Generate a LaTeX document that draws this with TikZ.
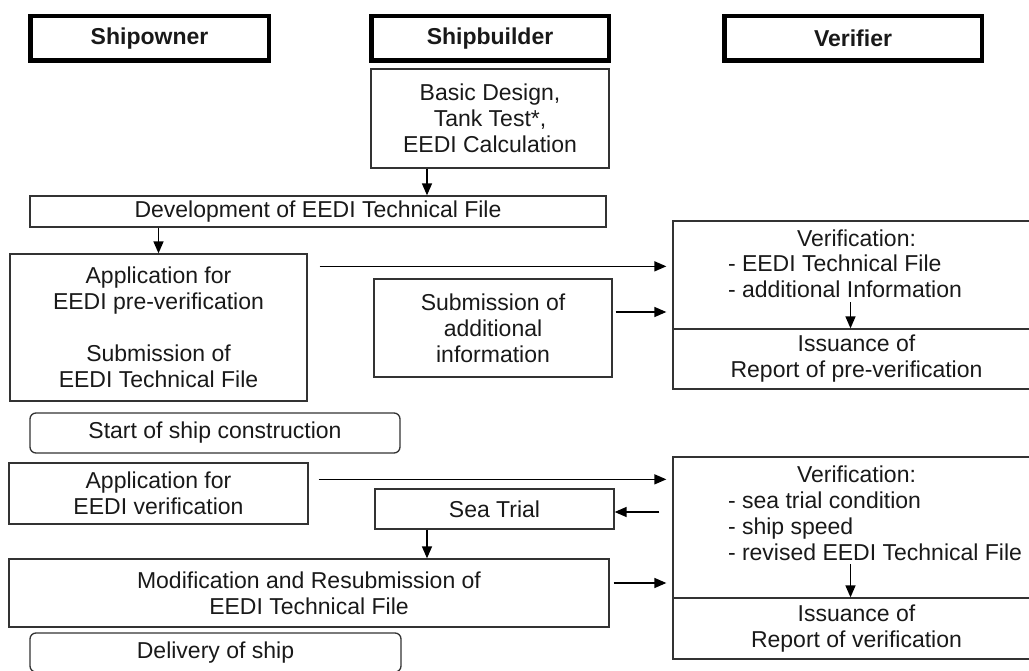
\documentclass[tikz,border=0pt]{standalone}
\usepackage{fontspec}
\setmainfont{Liberation Sans}
\usetikzlibrary{arrows.meta}
\definecolor{framecolorc}{HTML}{333333}
\colorlet{framecolor}{framecolorc}
\colorlet{textcolor}{black!90}
\newcommand{\vlist}[3]{% verification text
\begin{minipage}[c][#1][t]{367pt}
\centering\rule{0pt}{25pt}#2\par
\raggedright\leftskip=55pt #3
\end{minipage}}
\tikzstyle{headbox} = [
    draw=black,
    line width=4.5pt,
    rectangle,
    inner sep=0pt,
    minimum height=44.5pt,
    text=textcolor,
    font=\fontsize{23}{26}\selectfont\bfseries
    ]
\tikzstyle{stepbox} = [
    draw=framecolor,
    line width=1.3pt,
    rectangle,
    inner sep=0pt,
    align=center,
    text=textcolor,
    font=\fontsize{23}{26}\selectfont
    ]
\tikzstyle{eventbox} = [stepbox, rounded corners=6pt]
\tikzstyle{verbox} = [
    draw=framecolor,
    line width=1.3pt,
    rectangle,
    inner sep=0pt,
    text=textcolor,
    font=\fontsize{23}{26}\selectfont
    ]
\tikzstyle{flow} = [draw=black, line width=1.5pt, -{Triangle[length=12pt,width=10pt]}]

\begin{document}
\begin{tikzpicture}[x=1pt,y=-1pt]
\useasboundingbox (0,0) rectangle (1029,671);
\clip (0,0) rectangle (1029,671);
\node[headbox, minimum width=238.5pt] (owner) at (149.5,38.5) {Shipowner};
\node[headbox, minimum width=237.5pt] (builder) at (490,38.5) {Shipbuilder};
\node[headbox, minimum width=257.5pt] (verifier) at (853,38.5) {Verifier};

\node[stepbox, minimum width=238pt, minimum height=99pt] (design) at (490,118.5) {Basic Design,\\Tank Test*,\\EEDI Calculation};
\node[stepbox, minimum width=576pt, minimum height=31pt] (techfile) at (318,211.5) {Development of EEDI Technical File};
\node[stepbox, minimum width=297pt, minimum height=147pt] (preapp) at (158.5,327.5) {Application for\\EEDI pre-verification\\[26pt]Submission of\\EEDI Technical File};
\node[stepbox, minimum width=238pt, minimum height=98pt] (addinfo) at (493,328) {Submission of\\additional\\information};
\node[verbox] (preverif) at (856.5,275) {\vlist{108pt}{Verification:}{- EEDI Technical File\\- additional Information}};
\node[stepbox, minimum width=367pt, minimum height=60pt] (prereport) at (856.5,359) {Issuance of\\Report of pre-verification};

\node[eventbox, minimum width=370pt, minimum height=40pt] (start) at (215,433) {Start of ship construction};
\node[stepbox, minimum width=299pt, minimum height=61pt] (app) at (158.5,493.5) {Application for\\EEDI verification};
\node[stepbox, minimum width=239pt, minimum height=40pt] (seatrial) at (494.5,509) {Sea Trial};
\node[verbox] (verif) at (856.5,527.5) {\vlist{141pt}{Verification:}{- sea trial condition\\- ship speed\\- revised EEDI Technical File}};
\node[stepbox, minimum width=367pt, minimum height=61pt] (report) at (856.5,628.5) {Issuance of\\Report of verification};
\node[stepbox, minimum width=600pt, minimum height=68pt] (resubmit) at (309,593) {Modification and Resubmission of\\EEDI Technical File};
\node[eventbox, minimum width=371pt, minimum height=39pt] (delivery) at (215.5,652.5) {Delivery of ship};

\draw[flow] ([xshift=-63pt]design.south) -- ([xshift=-63pt]design.south |- techfile.north);
\draw[flow] (preapp.north |- techfile.south) -- (preapp.north);
\draw[flow, shorten <=12pt, shorten >=6pt] ([yshift=-13pt]preapp.north east) -- ([yshift=-13pt]preapp.north east -| preverif.west);
\draw[flow, shorten <=3pt, shorten >=6pt] ([yshift=16pt]addinfo.east) -- ([yshift=16pt]addinfo.east -| preverif.west);
\draw[flow] ([xshift=-6pt,yshift=26pt]prereport.north) -- ([xshift=-6pt]prereport.north);
\draw[flow, shorten <=10pt, shorten >=6pt] ([yshift=-17pt]app.north east) -- ([yshift=-17pt]app.north east -| verif.west);
\draw[flow, shorten <=13pt] ([yshift=-3pt]seatrial.east -| verif.west) -- ([yshift=-3pt]seatrial.east);
\draw[flow] ([xshift=-67.5pt]seatrial.south) -- ([xshift=-67.5pt]seatrial.south |- resubmit.north);
\draw[flow, shorten <=4pt, shorten >=6pt] ([yshift=10pt]resubmit.east) -- ([yshift=10pt]resubmit.east -| verif.west);
\draw[flow] ([xshift=-6pt,yshift=33pt]report.north) -- ([xshift=-6pt]report.north);
\end{tikzpicture}
\end{document}
